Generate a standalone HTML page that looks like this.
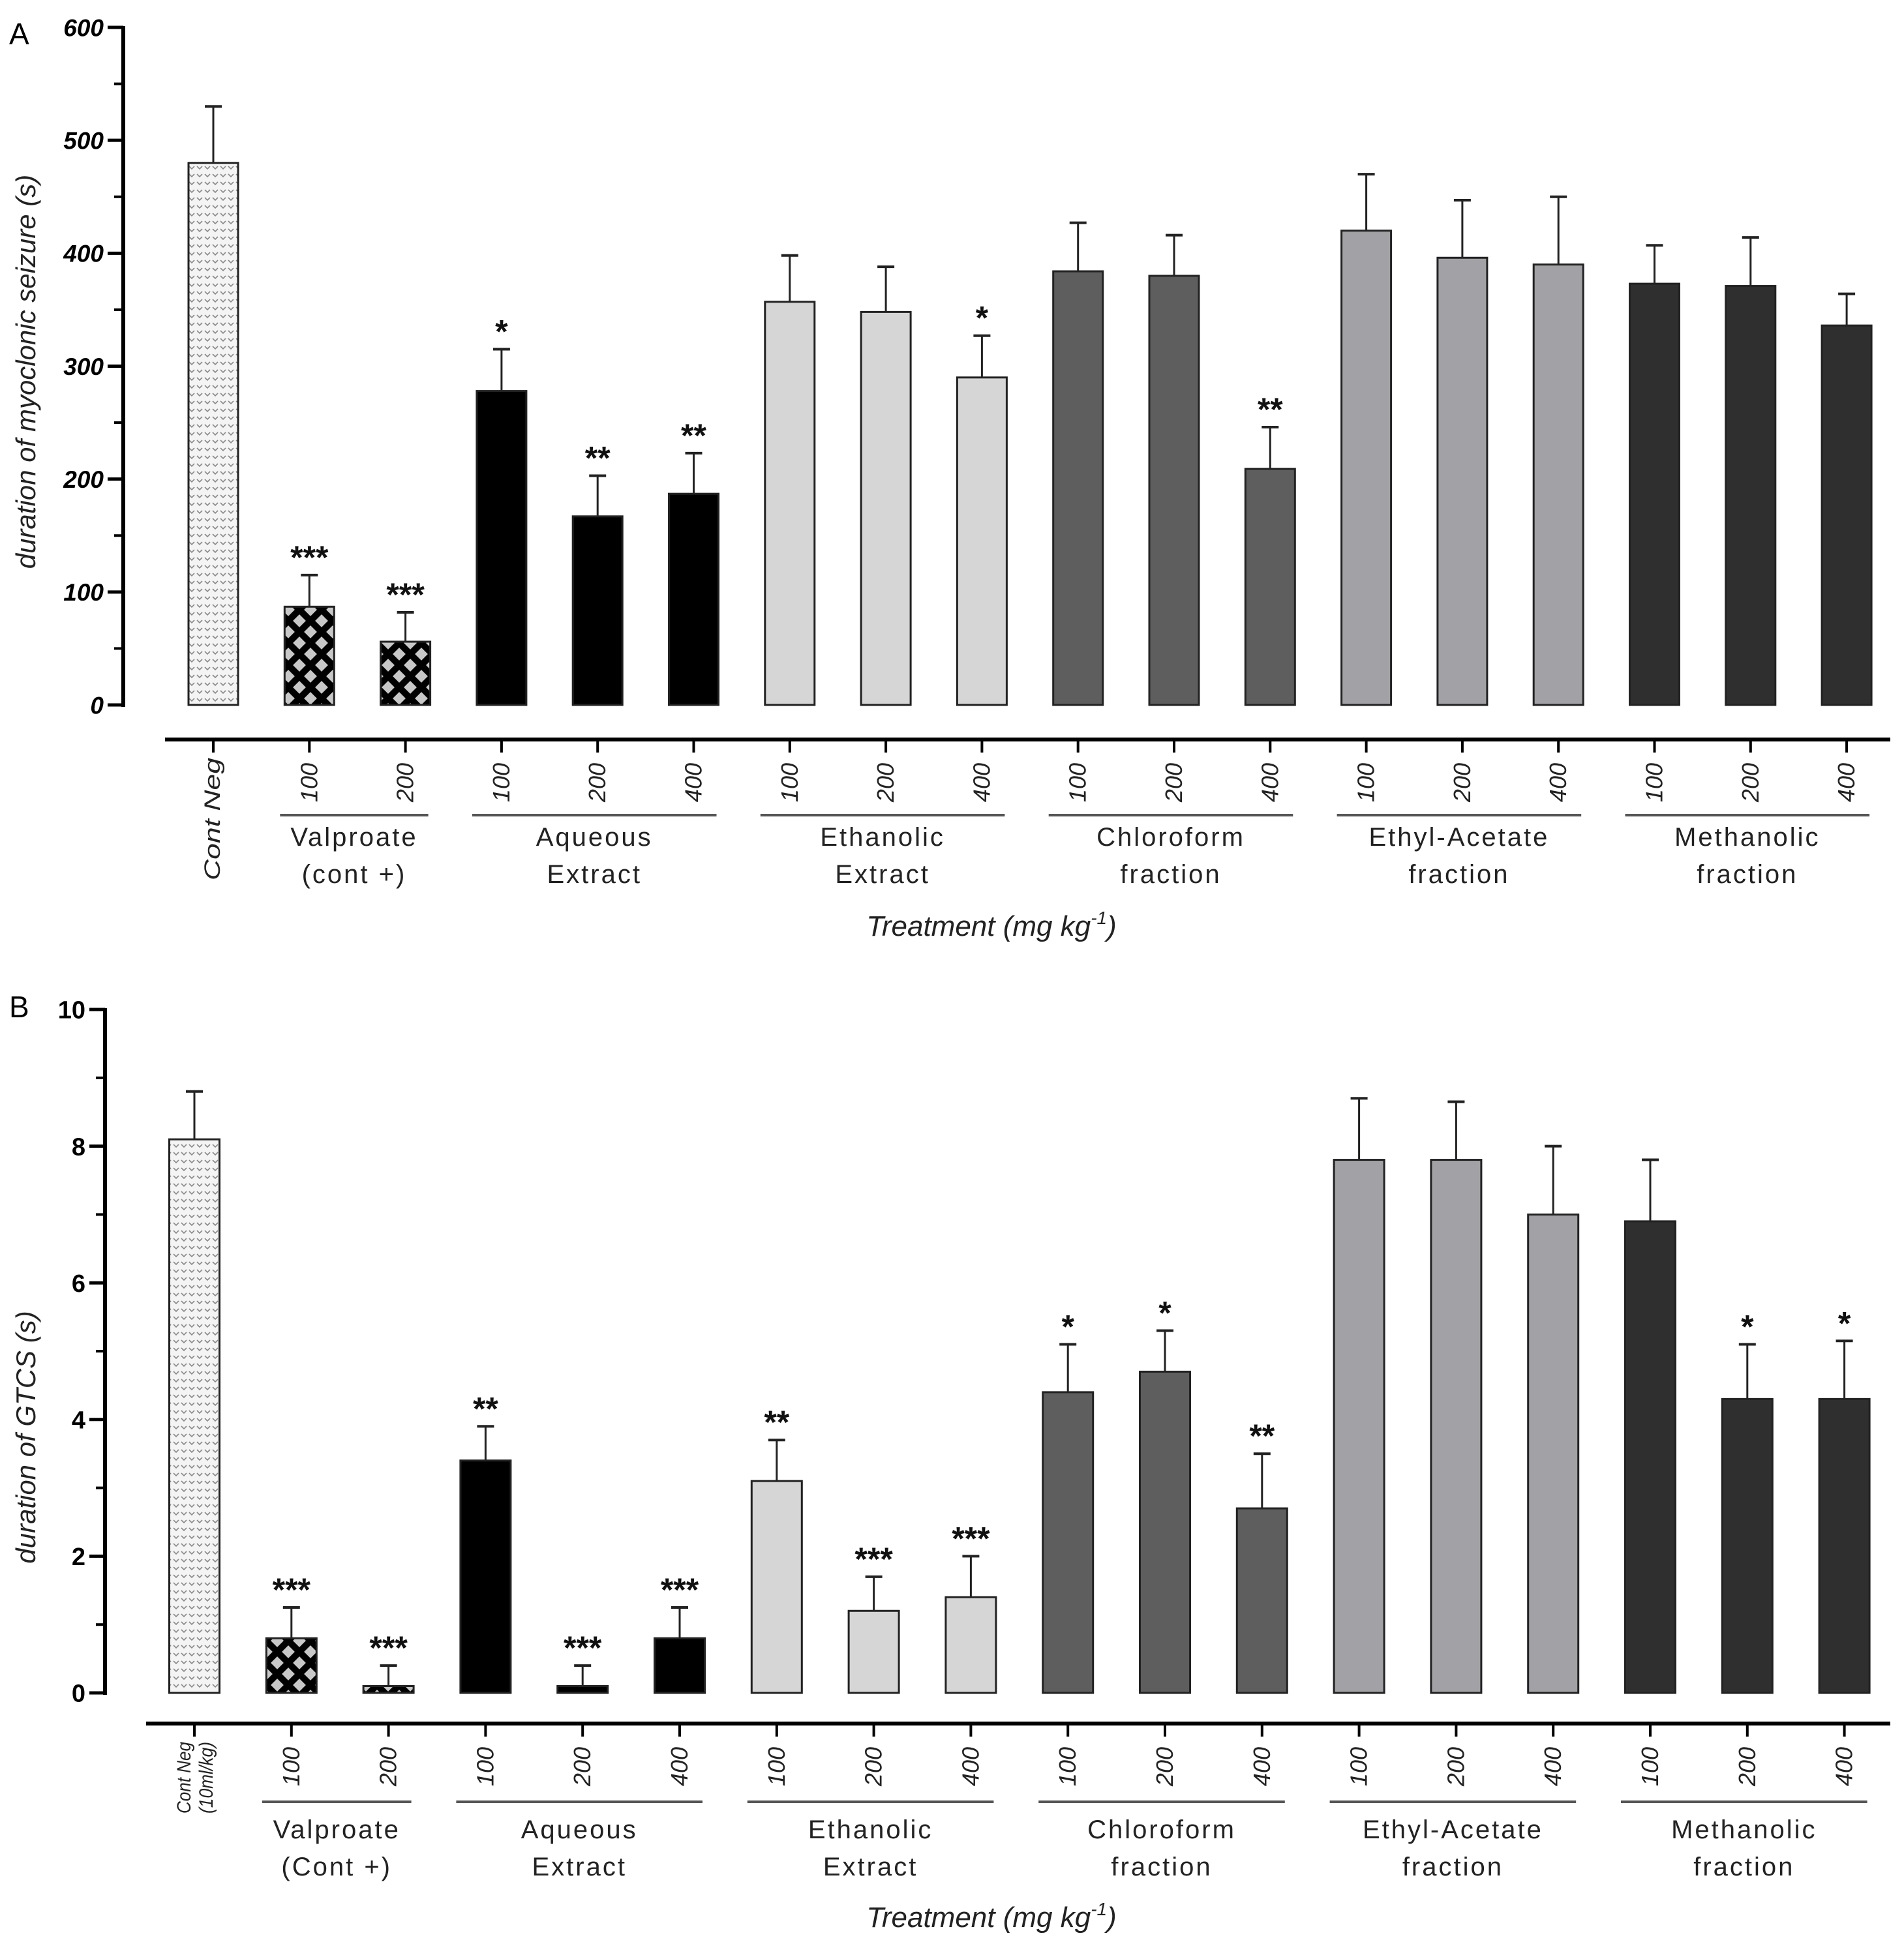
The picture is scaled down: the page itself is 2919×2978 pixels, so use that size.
<!DOCTYPE html>
<html><head><meta charset="utf-8"><style>
html,body{margin:0;padding:0;background:#fff}
svg{display:block}
text{font-family:"Liberation Sans",sans-serif}
</style></head><body>
<svg id="fig" width="2919" height="2978" viewBox="0 0 2919 2978" xmlns="http://www.w3.org/2000/svg">
<defs>
<pattern id="chev" width="12" height="12" patternUnits="userSpaceOnUse">
<rect width="12" height="12" fill="#f4f4f4"/>
<path d="M2 3 L6 7 L10 3" stroke="#8a8a8a" stroke-width="1.6" fill="none"/>
</pattern>
<pattern id="cross" width="34" height="34" patternUnits="userSpaceOnUse">
<rect width="34" height="34" fill="#c8c8c8"/>
<path d="M0 0 L34 34 M34 0 L0 34" stroke="#000" stroke-width="10"/>
</pattern>
</defs>
<text x="14" y="68" font-size="46">A</text>
<text x="14" y="1560" font-size="46">B</text>
<g id="pa"></g>
<g id="pb"></g>
</svg>
<script>
const doses = ["Cont Neg","100","200","100","200","400","100","200","400","100","200","400","100","200","400","100","200","400"];
const fills = ["url(#chev)","url(#cross)","url(#cross)","#000","#000","#000","#d6d6d6","#d6d6d6","#d6d6d6","#5e5e5e","#5e5e5e","#5e5e5e","#a2a1a6","#a2a1a6","#a2a1a6","#2f2f2f","#2f2f2f","#2f2f2f"];
const groupNamesA = [["Valproate","(cont +)"],["Aqueous","Extract"],["Ethanolic","Extract"],["Chloroform","fraction"],["Ethyl-Acetate","fraction"],["Methanolic","fraction"]];
const groupNamesB = [["Valproate","(Cont +)"],["Aqueous","Extract"],["Ethanolic","Extract"],["Chloroform","fraction"],["Ethyl-Acetate","fraction"],["Methanolic","fraction"]];
const groupRanges = [[1,2],[3,5],[6,8],[9,11],[12,14],[15,17]];
const valuesA = [480,87,56,278,167,187,357,348,290,384,380,209,420,396,390,373,371,336];
const errorsA = [50,28,26,37,36,36,41,40,37,43,36,37,50,51,60,34,43,28];
const sigA = ["","***","***","*","**","**","","","*","","","**","","","","","",""];
const ticksA = [0,100,200,300,400,500,600];
const valuesB = [8.1,0.8,0.1,3.4,0.1,0.8,3.1,1.2,1.4,4.4,4.7,2.7,7.8,7.8,7.0,6.9,4.3,4.3];
const errorsB = [0.7,0.45,0.3,0.5,0.3,0.45,0.6,0.5,0.6,0.7,0.6,0.8,0.9,0.85,1.0,0.9,0.8,0.85];
const sigB = ["","***","***","**","***","***","**","***","***","*","*","**","","","","","*","*"];
const ticksB = [0,2,4,6,8,10];

const NS="http://www.w3.org/2000/svg";
function mk(parent,tag,attrs,txt){const e=document.createElementNS(NS,tag);for(const k in attrs)e.setAttribute(k,attrs[k]);if(txt!==undefined)e.textContent=txt;parent.appendChild(e);return e;}

function panel(g,cfg){
  const y=v=>cfg.y0-(v-cfg.min)/(cfg.max-cfg.min)*(cfg.y0-cfg.yTop);
  const x=i=>cfg.x0+i*cfg.step;
  let ax=mk(g,'line',{x1:cfg.axX,y1:y(cfg.max)-2,x2:cfg.axX,y2:cfg.y0+3,stroke:'#000','stroke-width':6});
  
  cfg.ticks.forEach((t,i)=>{
    const l=mk(g,'line',{x1:cfg.axX-24,y1:y(t),x2:cfg.axX,y2:y(t),stroke:'#000','stroke-width':5});
    
    const tx=mk(g,'text',{x:cfg.axX-30,y:y(t)+cfg.tickFs*0.36,'text-anchor':'end','font-size':cfg.tickFs,'font-weight':'bold','font-style':cfg.tickStyle},String(t));
    
    if(i<cfg.ticks.length-1){const m=(t+cfg.ticks[i+1])/2;
      const ml=mk(g,'line',{x1:cfg.axX-14,y1:y(m),x2:cfg.axX,y2:y(m),stroke:'#000','stroke-width':4});
      }
  });
  const yt=mk(g,'text',{x:0,y:0,transform:`translate(${cfg.titleX},${cfg.titleY}) rotate(-90)`,'text-anchor':'middle','font-size':42,'font-style':'italic',fill:'#222'},cfg.yTitle);
  
  cfg.vals.forEach((v,i)=>{
    const cx=x(i),w=cfg.bw;
    const top=y(cfg.vals[i]+cfg.errs[i]);
    const el=mk(g,'line',{x1:cx,y1:y(v),x2:cx,y2:top,stroke:'#222','stroke-width':3});
    
    const ec=mk(g,'line',{x1:cx-13,y1:top,x2:cx+13,y2:top,stroke:'#222','stroke-width':4});
    
    const r=mk(g,'rect',{x:cx-w/2,y:y(v),width:w,height:cfg.y0-y(v),fill:fills[i],stroke:'#222','stroke-width':3});
    
    if(cfg.sig[i]){const s=mk(g,'text',{x:cx,y:top-10,'text-anchor':'middle','font-size':50,'font-weight':'bold',fill:'#111'},cfg.sig[i]);
      }
    const xt=mk(g,'line',{x1:cx,y1:cfg.xAxisY,x2:cx,y2:cfg.xAxisY+20,stroke:'#000','stroke-width':4});
    
    if(i===0){
      const lines=cfg.contNeg;
      lines.forEach((ln,k)=>{
        const t=mk(g,'text',{x:0,y:0,transform:`translate(${cx-6+k*34+(lines.length===1?16:0)},${cfg.xAxisY+28}) rotate(-90)`,'text-anchor':'end','font-size':cfg.cnFs,'font-style':'italic',fill:'#222',textLength:cfg.cnLen,lengthAdjust:'spacingAndGlyphs'},ln);
        
      });
    } else {
      const t=mk(g,'text',{x:0,y:0,transform:`translate(${cx+12},${cfg.xAxisY+36}) rotate(-90)`,'text-anchor':'end','font-size':36,'font-style':'italic',fill:'#222'},doses[i]);
      
    }
  });
  const xa=mk(g,'line',{x1:cfg.xAxisStart,y1:cfg.xAxisY,x2:2898,y2:cfg.xAxisY,stroke:'#000','stroke-width':6});
  
  groupRanges.forEach((gr,k)=>{
    const a=x(gr[0])-45,b=x(gr[1])+35,c=(a+b)/2;
    const u=mk(g,'line',{x1:a,y1:cfg.ulY,x2:b,y2:cfg.ulY,stroke:'#555','stroke-width':4});
    
    cfg.groups[k].forEach((ln,j)=>{
      const t=mk(g,'text',{x:c,y:cfg.nameY+j*57,'text-anchor':'middle','font-size':40,'letter-spacing':cfg.ls,fill:'#222'},ln);
      
    });
  });
  const xt=mk(g,'text',{x:1520,y:cfg.xTitleY,'text-anchor':'middle','font-size':44,'font-style':'italic',fill:'#222'},'Treatment (mg kg');
  mk(xt,'tspan',{dy:-18,'font-size':28},'-1');
  mk(xt,'tspan',{dy:18},')');
  
}
panel(document.getElementById('pa'),{vals:valuesA,errs:errorsA,sig:sigA,ticks:ticksA,min:0,max:600,y0:1081,yTop:42,axX:189,x0:327,step:147.3,bw:76,
  tickFs:37,tickStyle:'italic',yTitle:'duration of myoclonic seizure (s)',titleX:54,titleY:570,xAxisY:1134,xAxisStart:253,
  contNeg:['Cont Neg'],cnFs:34,cnLen:188,ulY:1250,nameY:1297,ls:3,groups:groupNamesA,xTitleY:1435});
panel(document.getElementById('pb'),{vals:valuesB,errs:errorsB,sig:sigB,ticks:ticksB,min:0,max:10,y0:2596,yTop:1548,axX:161,x0:298,step:148.8,bw:77,
  tickFs:38,tickStyle:'normal',yTitle:'duration of GTCS (s)',titleX:54,titleY:2204,xAxisY:2643,xAxisStart:224,
  contNeg:['Cont Neg','(10ml/kg)'],cnFs:30,cnLen:110,ulY:2763,nameY:2819,ls:3,groups:groupNamesB,xTitleY:2955});
</script>
</body></html>
